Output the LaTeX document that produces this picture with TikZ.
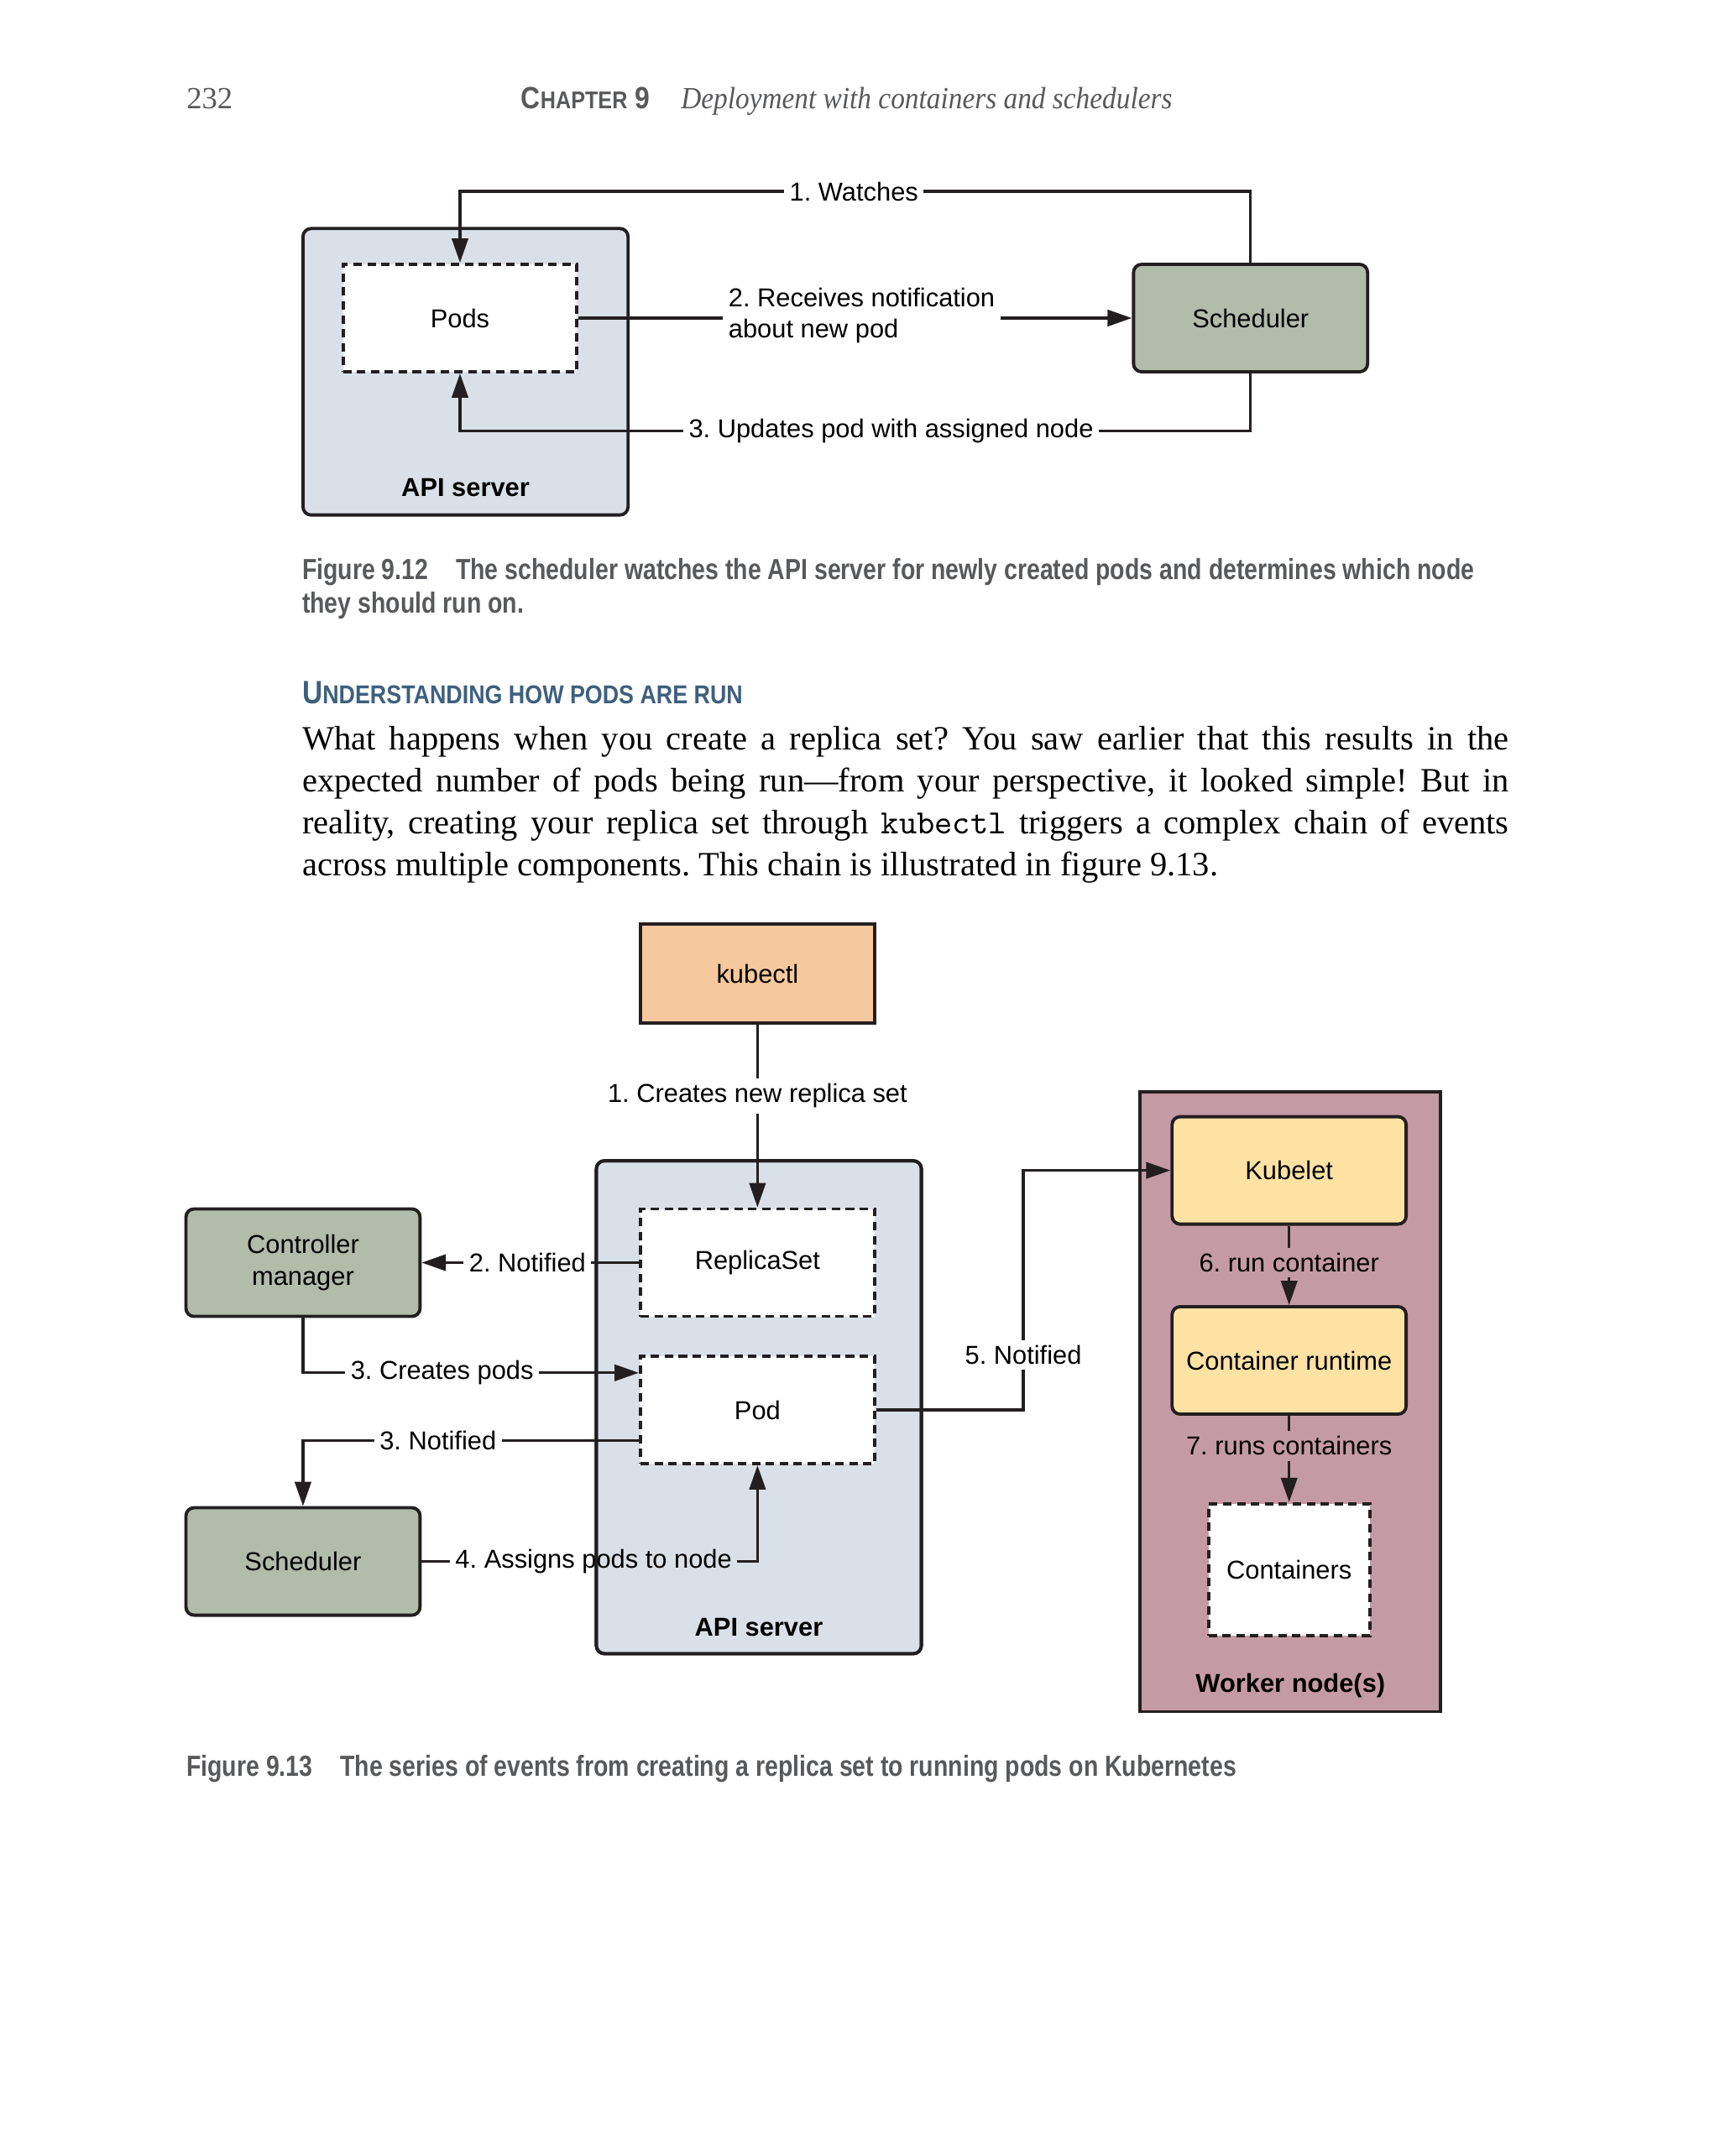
\documentclass[tikz,border=0pt]{standalone}
\usepackage{fontspec}
\setmainfont{Liberation Serif}
\newfontfamily\diagfont{Liberation Sans}
\newfontfamily\capfont[FakeStretch=0.82]{Liberation Sans}
\newfontfamily\chapfont[FakeStretch=0.87]{Liberation Sans}
\newfontfamily\headit[FakeStretch=0.91]{Liberation Serif}
\usetikzlibrary{arrows.meta,positioning,calc}

\definecolor{linec}{HTML}{231F20}
\definecolor{apifill}{HTML}{D9E0E8}
\definecolor{schedfill}{HTML}{B1BCAA}
\definecolor{kubefill}{HTML}{F6C89D}
\definecolor{workfill}{HTML}{C59AA7}
\definecolor{yelfill}{HTML}{FDE2A4}
\definecolor{headblue}{HTML}{3E607F}
\definecolor{capgray}{HTML}{58595B}

\newcommand\dfont{\diagfont\fontsize{8}{9.6}\selectfont}
\newcommand\cfont{\capfont\bfseries\fontsize{9}{10.3}\selectfont}

\tikzset{
  box/.style={draw=linec, line width=1pt, rounded corners=2.5pt, minimum width=72.3pt,
    minimum height=33.2pt, font=\dfont, align=center, inner sep=2pt},
  greenbox/.style={box, fill=schedfill},
  yellowbox/.style={box, fill=yelfill},
  dashbox/.style={box, sharp corners, fill=white, dash pattern=on 2.6pt off 1.7pt},
  outerbox/.style={draw=linec, line width=1pt, rounded corners=2.5pt, inner sep=0pt, outer sep=0pt},
  lbl/.style={font=\dfont, fill=white, inner sep=1.5pt},
  boldlbl/.style={font=\dfont\bfseries, inner sep=0pt},
  conn/.style={draw=linec, line width=0.85pt},
  arr/.style={conn, -{Triangle[length=7.5pt,width=5pt]}},
}

\begin{document}
\frenchspacing
\begin{tikzpicture}[x=0.4254pt,y=-0.4254pt]
  \fill[white] (0,0) rectangle (1248.3,1565.8);
  \useasboundingbox (0,0) rectangle (1248.3,1565.8);

  % running head
  \node[anchor=base west, inner sep=0, text=capgray, font=\fontsize{9.5}{11}\selectfont] (pagenum) at (135,79) {232};
  \node[anchor=base west, inner sep=0, text=capgray, font=\chapfont\bfseries] (chap) at (378,79)
    {{\fontsize{9.5}{11}\selectfont C}{\fontsize{7.5}{9}\selectfont HAPTER} {\fontsize{9.5}{11}\selectfont 9}};
  \node[anchor=base west, inner sep=0, text=capgray, font=\headit\itshape\fontsize{9.5}{11}\selectfont] (chaptitle) at (494,79)
    {Deployment with containers and schedulers};

  % figure 9.12
  \node[outerbox, fill=apifill, minimum width=100.4pt, minimum height=88.5pt] (api1) at (338,270) {};
  \node[boldlbl] (api1lbl) at (338,354) {API server};
  \node[dashbox] (pods) at (334,231) {Pods};
  \node[greenbox] (sched) at (908,231) {Scheduler};

  \node[lbl] (watch) at (620,139) {1. Watches};
  \node[lbl, align=left, anchor=west] (recv) at (525,229) {2. Receives notification\\about new pod};
  \node[lbl] (upd) at (647,313) {3. Updates pod with assigned node};

  \draw[conn] (sched.north) |- (watch.east);
  \draw[arr] (watch.west) -| (pods.north);
  \draw[conn] (pods.east) -- (pods.east -| recv.west);
  \draw[arr] (recv.east |- sched.west) -- (sched.west);
  \draw[conn] (sched.south) |- (upd.east);
  \draw[arr] (upd.west) -| (pods.south);

  \node[anchor=north west, inner sep=0, align=left, text=capgray, font=\cfont] (cap12) at (219,405)
    {Figure 9.12\hspace{8.5pt}The scheduler watches the API server for newly created pods and determines which node\\they should run on.};

  % section text
  \node[anchor=base west, inner sep=0, text=headblue, font=\chapfont\bfseries] (head) at (219,511)
    {{\fontsize{10}{12}\selectfont U}{\fontsize{8}{10}\selectfont NDERSTANDING HOW PODS ARE RUN}};
  \node[anchor=north west, inner sep=0, text width=372.7pt, align=justify,
    font=\fontsize{10.5}{13}\selectfont] (body) at (219,527)
    {\noindent What happens when you create a replica set? You saw earlier that this results in the\linebreak
     expected number of pods being run---from your perspective, it looked simple! But in\linebreak
     reality, creating your replica set through \texttt{kubectl} triggers a complex chain of events\linebreak
     across multiple components. This chain is illustrated in figure 9.13.};

  % figure 9.13
  \node[outerbox, fill=apifill, minimum width=100.4pt, minimum height=152.3pt] (api2) at (551,1022) {};
  \node[outerbox, sharp corners, fill=workfill, minimum width=92.8pt, minimum height=191.5pt] (worker) at (937,1018) {};
  \node[box, sharp corners, fill=kubefill, minimum height=30.6pt] (kubectl) at (550,707) {kubectl};
  \node[dashbox] (rs) at (550,917) {ReplicaSet};
  \node[dashbox] (pod) at (550,1024) {Pod};
  \node[greenbox] (cm) at (220,917) {Controller\\manager};
  \node[greenbox] (sched2) at (220,1134) {Scheduler};
  \node[yellowbox] (kubelet) at (936,850) {Kubelet};
  \node[yellowbox] (runtime) at (936,988) {Container runtime};
  \node[dashbox, minimum width=49.8pt, minimum height=40.8pt] (cont) at (936,1140) {Containers};
  \node[boldlbl] (api2lbl) at (551,1182) {API server};
  \node[boldlbl] (workerlbl) at (937,1224) {Worker node(s)};

  \node[lbl] (create) at (550,796) {1. Creates new replica set};
  \node[lbl] (notif2) at (383,917) {2. Notified};
  \node[lbl] (cpods) at (321,997) {3. Creates pods};
  \node[lbl] (notif3) at (318,1046) {3. Notified};
  \node[lbl, fill=none] (assign) at (431,1134) {4. Assigns pods to node};
  \node[lbl] (notif5) at (743,984) {5. Notified};
  \node[lbl, fill=workfill] (runc) at (936,917) {6. run container};
  \node[lbl, fill=workfill] (runcs) at (936,1050) {7. runs containers};

  \draw[conn] (kubectl.south) -- (create.north);
  \draw[arr] (create.south) -- (rs.north);
  \draw[conn] (rs.west) -- (notif2.east);
  \draw[arr] (notif2.west) -- (cm.east);
  \draw[conn] (cm.south) |- (cpods.west);
  \draw[arr] (cpods.east) -- (cpods.east -| pod.west);
  \draw[conn] (pod.west |- notif3.east) -- (notif3.east);
  \draw[arr] (notif3.west) -| (sched2.north);
  \draw[conn] (sched2.east) -- (assign.west);
  \draw[arr] (assign.east) -| (pod.south);
  \draw[conn] (pod.east) -| (notif5.south);
  \draw[arr] (notif5.north) |- (kubelet.west);
  \draw[conn] (kubelet.south) -- (runc.north);
  \draw[arr] (runc.south) -- (runtime.north);
  \draw[conn] (runtime.south) -- (runcs.north);
  \draw[arr] (runcs.south) -- (cont.north);
  \draw[linec, line width=1pt, rounded corners=2.5pt] (api2.south west) rectangle (api2.north east);

  \node[anchor=base west, inner sep=0, text=capgray, font=\cfont] (cap13) at (135,1290)
    {Figure 9.13\hspace{8.5pt}The series of events from creating a replica set to running pods on Kubernetes};
\end{tikzpicture}
\end{document}
